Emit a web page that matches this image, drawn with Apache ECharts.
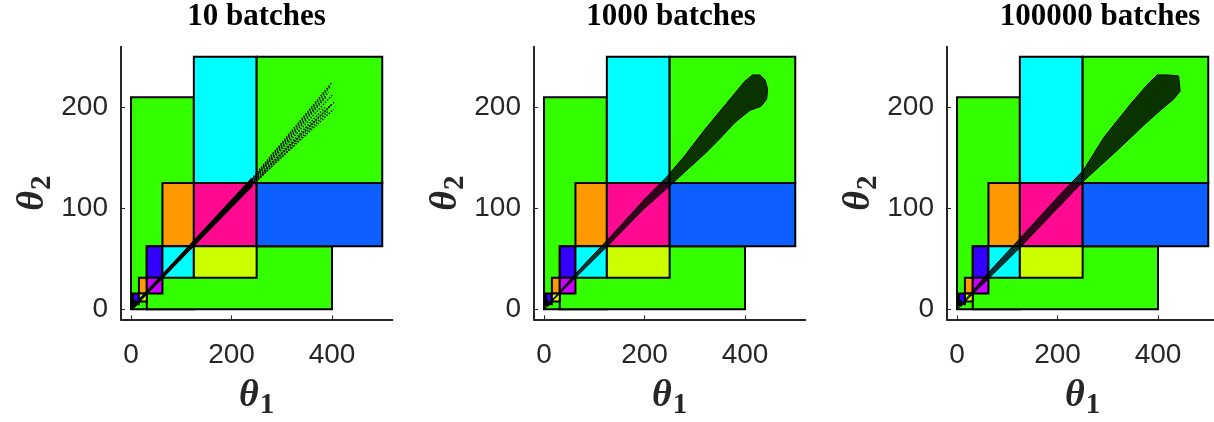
<!DOCTYPE html>
<html>
<head>
<meta charset="utf-8">
<script src="https://cdn.jsdelivr.net/npm/echarts@6/dist/echarts.min.js"></script>
<style>
html, body { margin: 0; padding: 0; background: #fff; }
#chart { width: 1214px; height: 422px; }
</style>
</head>
<body>
<div id="chart"></div>
<script>
// ---- data ----
const panelTitles = ['10 batches', '1000 batches', '100000 batches'];
const xTicks = [0, 200, 400];
const yTicks = [0, 100, 200];

// partition cells [x0, x1] x [y0, y1], drawn in this order
const cellX0 = [0,   31.25, 125, 250, 62.5, 125, 250, 31.25, 62.5,  125,   15.625, 31.25,  3.90625, 15.625, 3.90625];
const cellX1 = [125, 400,   250, 500, 125,  250, 500, 62.5,  125,   250,   31.25,  62.5,   15.625,  31.25,  7.8125];
const cellY0 = [0,   0,     125, 125, 62.5, 62.5,62.5,31.25, 31.25, 31.25, 15.625, 15.625, 5,       7.8125, 3.90625];
const cellY1 = [210, 62.5,  250, 250, 125,  125, 125, 62.5,  62.5,  62.5,  31.25,  31.25,  15.625,  15.625, 7.8125];

// 10 batches: each batch runs from the origin through a trunk point to its end point
const batchMid = [[240,129],[240,128],[240,127],[240,126],[240,126],[240,125],[240,124],[240,124],[240,123],[240,122]];
const batchEnd = [[399,224],[396,220],[393,215],[388,210],[402,213],[406,206],[386,200],[400,203],[403,198],[392,196]];

// outline of the sample cloud after 1000 and 100000 batches
const cloud1000 = [[0,0],[60,34],[125,68],[200,109],[244,131],[280,152],[320,178],[350,196],[380,214],[400,226],[415,232],[430,232],[440,227],[445,218],
                   [443,208],[432,201],[410,197],[380,185],[350,169],[320,154],[280,136],[250,122],[200,100],[125,62],[60,30],[0,0]];
const cloud100000 = [[0,0],[60,35],[125,70],[200,111],[252,138],[292,170],[345,203],[378,222],[398,232],[420,232],[441,231],
                     [444,216],[431,208],[400,195],[371,182],[318,157],[252,127],[200,100],[125,61],[60,29],[0,0]];

// ---- styles ----
const cellFill = ['#33ff00', '#33ff00', '#00ffff', '#33ff00', '#ff9900', '#ff0a90', '#0d60ff',
                  '#3300ff', '#00ffff', '#ccff00', '#ff9900', '#cc00ff', '#3300ff', '#ddff00', '#ff0000'];
const axisColor = '#262626';
const panelLeft = [121, 534, 947];
const gridTop = 46.7, gridW = 271.3, gridH = 272.7;
const titleCenter = [256.5, 671, 1100];

const serif = 'Liberation Serif, Times New Roman, serif';
const sans = 'Liberation Sans, Arial, Helvetica, sans-serif';

function nameRich() {
  return {
    t: { fontFamily: serif, fontWeight: 'bold', fontStyle: 'italic', fontSize: 38, color: axisColor },
    s: { fontFamily: serif, fontWeight: 'bold', fontSize: 29, color: axisColor, padding: [20, 0, 0, 1] }
  };
}

const cellData = cellX0.map((x0, i) => [x0, cellY0[i], cellX1[i], cellY1[i], i]);

function cellSeries(k) {
  return {
    type: 'custom', xAxisIndex: k, yAxisIndex: k, z: 2, silent: true,
    data: cellData,
    encode: { x: [0, 2], y: [1, 3] },
    renderItem: (params, api) => {
      const p0 = api.coord([api.value(0), api.value(1)]);
      const p1 = api.coord([api.value(2), api.value(3)]);
      return {
        type: 'rect',
        shape: { x: p0[0], y: p1[1], width: p1[0] - p0[0], height: p0[1] - p1[1] },
        style: { fill: cellFill[api.value(4)], stroke: '#000', lineWidth: 2 }
      };
    }
  };
}

function cloudSeries(k, outline) {
  return {
    type: 'custom', xAxisIndex: k, yAxisIndex: k, z: 5, silent: true,
    data: [[0, 0]],
    renderItem: (params, api) => ({
      type: 'polygon',
      shape: { points: outline.map(p => api.coord(p)) },
      style: { fill: 'rgba(0,0,0,0.8)', stroke: '#000', lineWidth: 1 }
    })
  };
}

const series = [];
for (let k = 0; k < 3; k++) series.push(cellSeries(k));
batchEnd.forEach((end, i) => {
  series.push({
    type: 'line', xAxisIndex: 0, yAxisIndex: 0, z: 5, silent: true, showSymbol: false,
    data: [[0, 0], batchMid[i]],
    lineStyle: { color: '#000', width: 2 }
  });
  series.push({
    type: 'line', xAxisIndex: 0, yAxisIndex: 0, z: 5, silent: true, showSymbol: false,
    data: [batchMid[i], end],
    lineStyle: { color: '#000', width: 1.4, type: [1.5, 1.5] }
  });
});
series.push(cloudSeries(1, cloud1000));
series.push(cloudSeries(2, cloud100000));

const option = {
  animation: false,
  backgroundColor: '#fff',
  title: panelTitles.map((t, k) => ({
    text: t, left: titleCenter[k], top: 1, textAlign: 'center', padding: 0,
    textStyle: { fontFamily: serif, fontWeight: 'bold', fontSize: 31, color: '#000' }
  })),
  grid: panelLeft.map(l => ({
    left: l, top: gridTop, width: gridW, height: gridH,
    containLabel: false, outerBoundsMode: 'none'
  })),
  xAxis: panelLeft.map((l, k) => ({
    gridIndex: k, type: 'value', min: -20, max: 520,
    axisLine: { show: true, onZero: false, lineStyle: { color: axisColor, width: 2 } },
    axisTick: { show: true, inside: true, length: 4, customValues: xTicks, lineStyle: { color: axisColor, width: 1 } },
    axisLabel: { customValues: xTicks, fontFamily: sans, fontSize: 28, color: axisColor, margin: 22 },
    splitLine: { show: false },
    name: '{t|θ}{s|1}', nameLocation: 'middle', nameGap: 52,
    nameTextStyle: { rich: nameRich() }
  })),
  yAxis: panelLeft.map((l, k) => ({
    gridIndex: k, type: 'value', min: -10, max: 260,
    axisLine: { show: true, onZero: false, lineStyle: { color: axisColor, width: 2 } },
    axisTick: { show: true, inside: true, length: 4, customValues: yTicks, lineStyle: { color: axisColor, width: 1 } },
    axisLabel: { customValues: yTicks, fontFamily: sans, fontSize: 28, color: axisColor, margin: 13 },
    splitLine: { show: false },
    name: '{t|θ}{s|2}', nameLocation: 'middle', nameGap: 60,
    nameTextStyle: { rich: nameRich(), padding: [0, 20, 0, 0] }
  })),
  series: series
};

const chart = echarts.init(document.getElementById('chart'), null, { renderer: 'canvas' });
chart.setOption(option);
</script>
</body>
</html>
